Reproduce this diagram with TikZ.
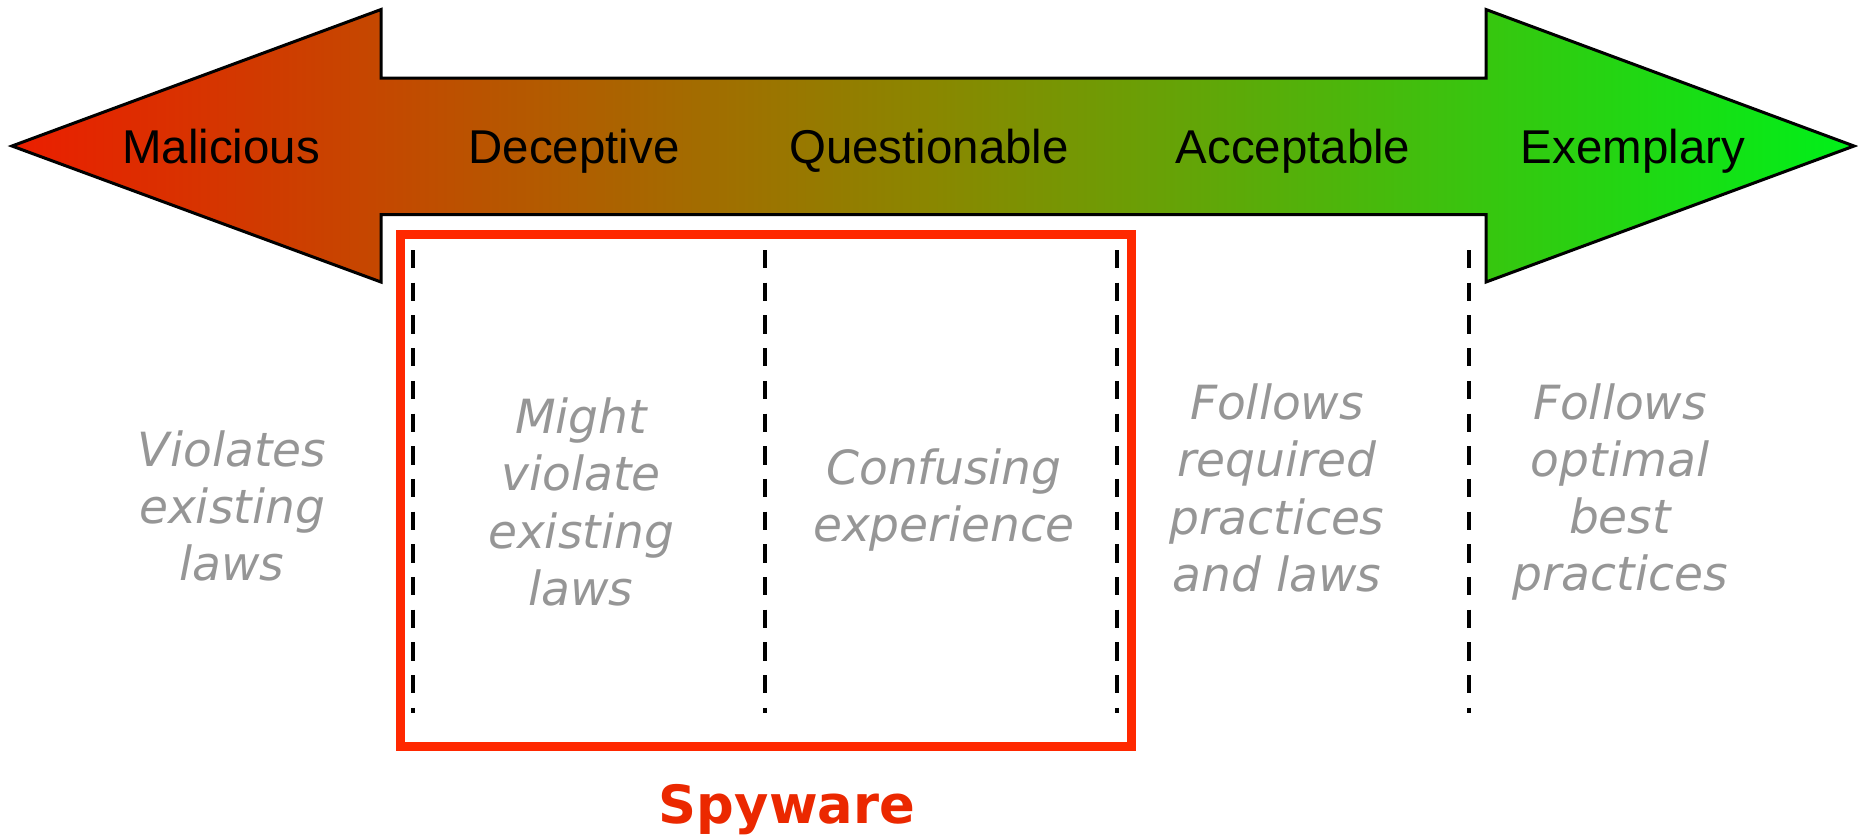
\documentclass[tikz,border=0pt]{standalone}
\usepackage{fontspec}
\setmainfont{Liberation Sans}
\newfontfamily\noteFont{DejaVu Sans}

\definecolor{badRed}{RGB}{235,30,0}
\definecolor{midOlive}{RGB}{138,135,0}
\definecolor{goodGreen}{RGB}{0,240,25}
\definecolor{boxRed}{RGB}{255,40,0}
\definecolor{spyRed}{RGB}{235,40,0}
\definecolor{noteGray}{RGB}{150,150,150}

\tikzset{
  level/.style={font=\fontsize{13.5}{16}\selectfont, anchor=base, inner sep=0pt},
  note/.style={font=\noteFont\itshape\fontsize{13.4}{16.3}\selectfont, text=noteGray, align=center, inner sep=0pt},
  divider/.style={dash pattern=on 1.83mm off 1.44mm, line width=0.33mm},
}

\def\tipY{146}
\def\headTop{9.5}
\def\headBot{282}
\def\shaftTop{78}
\def\shaftBot{214.5}
\def\leftBase{381}
\def\rightBase{1486}

\begin{document}
\begin{tikzpicture}[x=0.1mm,y=-0.1mm]
    \useasboundingbox (0,0) rectangle (1858,835);

    \draw[line width=0.3mm, left color=badRed, right color=goodGreen, middle color=midOlive]
      (12,\tipY) -- (\leftBase,\headTop) -- (\leftBase,\shaftTop) -- (\rightBase,\shaftTop)
      -- (\rightBase,\headTop) -- (1854,\tipY) -- (\rightBase,\headBot) -- (\rightBase,\shaftBot)
      -- (\leftBase,\shaftBot) -- (\leftBase,\headBot) -- cycle;

    \foreach \x/\t [count=\i] in {221/Malicious,574/Deceptive,929/Questionable,1293/Acceptable,1633/Exemplary} {
      \node[level] (level\i) at (\x,163) {\t};
    }

    \foreach \x in {413,765,1117,1469} {
      \draw[divider] (\x,250) -- (\x,713);
    }

    \draw[line width=0.9mm, boxRed] (400,234) rectangle (1131,746);

    \node[note] (note1) at (232,506) {Violates\\existing\\laws};
    \node[note] (note2) at (581,502) {Might\\violate\\existing\\laws};
    \node[note] (note3) at (944,500) {Confusing\\experience};
    \node[note] (note4) at (1277,488) {Follows\\required\\practices\\and laws};
    \node[note] (note5) at (1620,492) {Follows\\optimal\\best\\practices};

    \node[font=\noteFont\bfseries\fontsize{15}{18}\selectfont, text=spyRed, anchor=base] (spyware) at (787,823) {Spyware};
\end{tikzpicture}
\end{document}
